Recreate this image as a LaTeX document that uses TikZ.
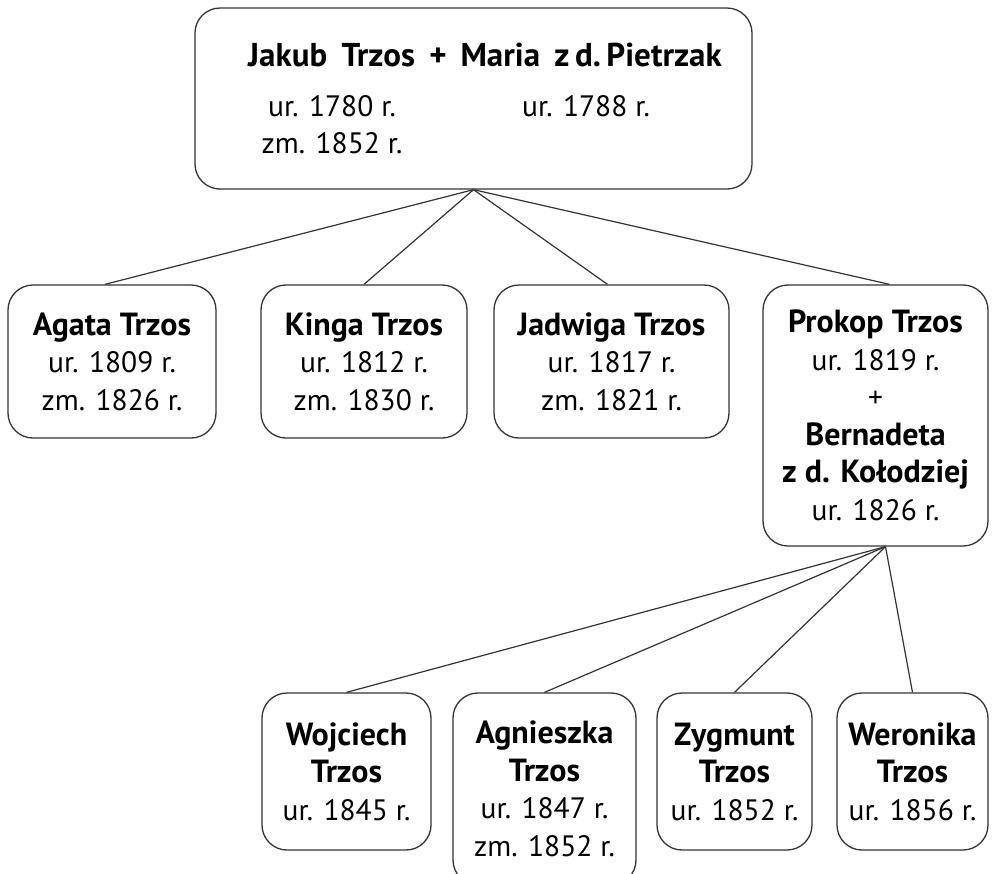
\documentclass[tikz,border=0pt]{standalone}
\usepackage{fontspec}
\setmainfont{PT Sans}
\newcommand{\nazwisko}[1]{{\fontsize{32}{37.5}\selectfont\bfseries #1}}
\tikzset{
  osoba/.style={draw=black!80, line width=1.3pt, rounded corners=25pt, align=center,
    inner sep=0pt, font=\fontsize{29.5}{37.5}\selectfont},
  tekst/.style={align=center, inner sep=0pt, font=\fontsize{29.5}{37.5}\selectfont},
  linia/.style={draw=black!80, line width=1.2pt}
}
\begin{document}
\begin{tikzpicture}[x=1pt,y=-1pt]
\useasboundingbox (0,0) rectangle (993,873);
\clip (0,0) rectangle (993,873);
% Parents
\node[osoba, minimum width=557pt, minimum height=181pt] (rodzice) at (473.5,98.5) {};
\node[tekst] (imiona) at (485,55) {{\fontsize{33}{37.5}\selectfont\bfseries Jakub\hspace{6pt} Trzos\hspace{6pt} + \,Maria\hspace{6pt} z\,d.\,Pietrzak}};
\node[tekst] (jakub) at (332,124.5) {ur. 1780 r.\\zm. 1852 r.};
\node[tekst] (maria) at (586,106) {ur. 1788 r.};
% Children
\node[osoba, minimum width=208pt, minimum height=153pt] (agata) at (112,361.5)
  {\nazwisko{Agata Trzos}\\ur. 1809 r.\\zm. 1826 r.};
\node[osoba, minimum width=206pt, minimum height=153pt] (kinga) at (364,361.5)
  {\nazwisko{Kinga Trzos}\\ur. 1812 r.\\zm. 1830 r.};
\node[osoba, minimum width=235pt, minimum height=153pt] (jadwiga) at (611.5,361.5)
  {\nazwisko{Jadwiga Trzos}\\ur. 1817 r.\\zm. 1821 r.};
\node[osoba, minimum width=225pt, minimum height=261pt] (prokop) at (875.5,415.5)
  {\nazwisko{Prokop Trzos}\\ur. 1819 r.\\+\\\nazwisko{Bernadeta}\\\nazwisko{z d. Kołodziej}\\ur. 1826 r.};
% Grandchildren
\node[osoba, minimum width=169pt, minimum height=157pt] (wojciech) at (346.5,771.5)
  {\nazwisko{Wojciech}\\\nazwisko{Trzos}\\ur. 1845 r.};
\node[osoba, minimum width=183pt, minimum height=192pt] (agnieszka) at (544.5,789)
  {\nazwisko{Agnieszka}\\\nazwisko{Trzos}\\ur. 1847 r.\\zm. 1852 r.};
\node[osoba, minimum width=155pt, minimum height=157pt] (zygmunt) at (734.5,771.5)
  {\nazwisko{Zygmunt}\\\nazwisko{Trzos}\\ur. 1852 r.};
\node[osoba, minimum width=151pt, minimum height=157pt] (weronika) at (912.5,771.5)
  {\nazwisko{Weronika}\\\nazwisko{Trzos}\\ur. 1856 r.};
% Lines to the children
\draw[linia] (rodzice.south) -- ([xshift=-7pt]agata.north);
\draw[linia] (rodzice.south) -- (kinga.north);
\draw[linia] (rodzice.south) -- ([xshift=-4pt]jadwiga.north);
\draw[linia] (rodzice.south) -- ([xshift=14pt]prokop.north);
% Lines to the grandchildren
\draw[linia] ([xshift=10pt]prokop.south) -- (wojciech.north);
\draw[linia] ([xshift=10pt]prokop.south) -- (agnieszka.north);
\draw[linia] ([xshift=10pt]prokop.south) -- (zygmunt.north);
\draw[linia] ([xshift=10pt]prokop.south) -- (weronika.north);
\end{tikzpicture}
\end{document}
